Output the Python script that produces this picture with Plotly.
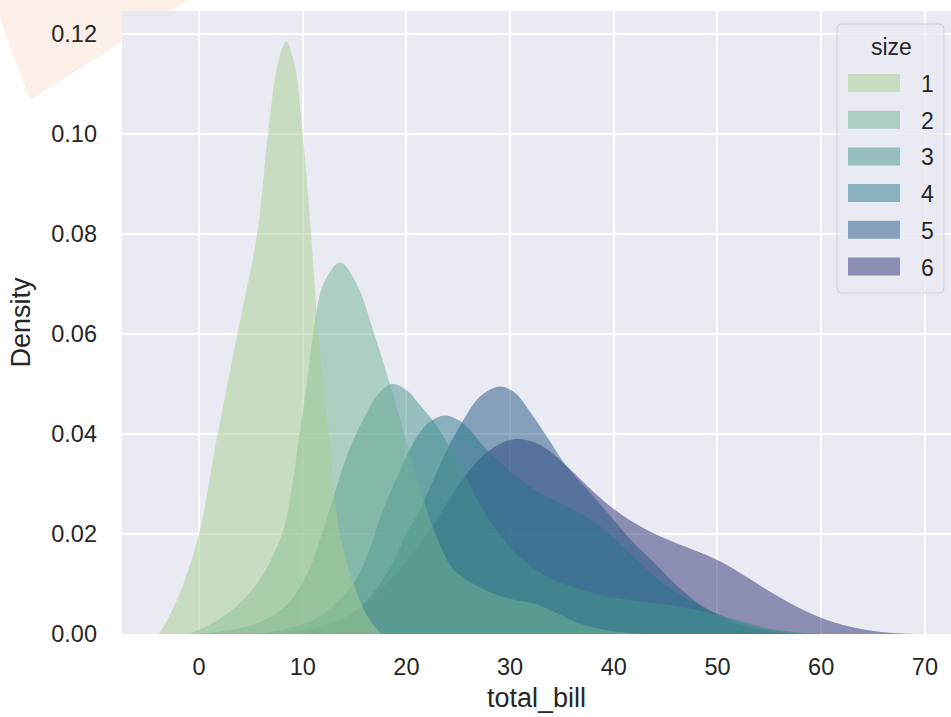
import plotly.graph_objects as go

# ---------------- data ----------------
sizes = [1, 2, 3, 4, 5, 6]

size1_x = [-3.9, -3.0, -1.6, 0.0, 1.8, 3.7, 5.6, 6.65, 7.6, 8.4, 9.2, 10.0, 10.8, 11.5, 12.5, 13.6, 15.0, 16.4, 17.6]
size1_y = [0, 0.003, 0.0095, 0.020, 0.040, 0.060, 0.080, 0.100, 0.114, 0.1185, 0.114, 0.100, 0.080, 0.060, 0.040, 0.020, 0.0095, 0.003, 0]

size2_x = [-1.0, 2.0, 5.4, 8.0, 9.0, 9.7, 10.4, 11.0, 12.0, 13.6, 15.2, 16.9, 18.4, 19.8, 21.2, 22.8, 24.5, 26.5, 28.5, 30.5, 32.5, 34.5, 36.7, 39.5, 43.0]
size2_y = [0, 0.003, 0.0095, 0.020, 0.030, 0.040, 0.050, 0.060, 0.070, 0.0743, 0.070, 0.060, 0.050, 0.040, 0.030, 0.020, 0.013, 0.010, 0.008, 0.0068, 0.006, 0.0042, 0.0021, 0.0007, 0]

size3_x = [0.0, 3.0, 6.0, 8.6, 10.6, 12.0, 13.2, 14.5, 16.0, 17.3, 18.6, 20.0, 21.3, 22.8, 24.2, 25.7, 27.1, 28.7, 30.3, 32.5, 34.5, 36.7, 39.0, 42.2, 45.4, 48.6, 51.9, 55.1, 58.0, 61.0]
size3_y = [0, 0.0008, 0.0025, 0.0061, 0.0128, 0.021, 0.029, 0.037, 0.0435, 0.048, 0.050, 0.0488, 0.0458, 0.042, 0.0372, 0.0315, 0.0258, 0.0207, 0.0166, 0.0128, 0.0106, 0.009, 0.0077, 0.0066, 0.0058, 0.0045, 0.0028, 0.0011, 0.0003, 0]

size4_x = [5.0, 8.0, 11.0, 13.0, 14.9, 16.3, 17.5, 18.8, 20.0, 21.2, 22.3, 23.7, 25.0, 25.8, 28.1, 30.6, 32.9, 35.8, 38.7, 41.6, 44.5, 47.0, 49.5, 52.0, 55.0, 58.5]
size4_y = [0, 0.0008, 0.0028, 0.0058, 0.0101, 0.016, 0.0235, 0.030, 0.0355, 0.040, 0.0425, 0.0437, 0.0428, 0.0415, 0.0361, 0.0315, 0.0281, 0.0252, 0.0215, 0.016, 0.0105, 0.0072, 0.0045, 0.0025, 0.0009, 0]

size5_x = [8.0, 11.0, 14.0, 16.5, 18.5, 20.0, 21.3, 22.6, 23.9, 25.5, 27.1, 29.0, 30.5, 31.9, 33.7, 35.1, 36.5, 37.7, 40.0, 42.0, 43.8, 45.4, 47.0, 48.6, 51.9, 55.0, 58.0]
size5_y = [0, 0.0008, 0.003, 0.0075, 0.0135, 0.020, 0.0248, 0.0308, 0.0368, 0.0428, 0.0475, 0.0495, 0.0482, 0.0445, 0.039, 0.0345, 0.031, 0.0283, 0.0228, 0.018, 0.0145, 0.011, 0.008, 0.0055, 0.0021, 0.0005, 0]

size6_x = [5.5, 9.0, 12.0, 15.0, 18.0, 21.3, 22.9, 24.5, 26.1, 28.4, 30.6, 32.9, 35.5, 38.0, 40.0, 42.0, 44.5, 47.7, 50.1, 52.5, 55.7, 58.9, 62.1, 65.4, 69.0]
size6_y = [0, 0.0006, 0.0018, 0.0045, 0.0098, 0.0181, 0.0228, 0.0281, 0.0328, 0.0373, 0.039, 0.0378, 0.0335, 0.0285, 0.025, 0.0222, 0.0195, 0.0168, 0.0147, 0.0118, 0.0077, 0.0042, 0.0018, 0.0005, 0]

x_ticks = [0, 10, 20, 30, 40, 50, 60, 70]
y_ticks = [0.00, 0.02, 0.04, 0.06, 0.08, 0.10, 0.12]
y_tick_labels = ["0.00", "0.02", "0.04", "0.06", "0.08", "0.10", "0.12"]

# crest palette sampled at the hue positions
colors = [(165, 205, 144), (111, 178, 145), (69, 148, 142), (38, 118, 139), (33, 85, 131), (44, 48, 114)]

series = {1: (size1_x, size1_y), 2: (size2_x, size2_y), 3: (size3_x, size3_y),
          4: (size4_x, size4_y), 5: (size5_x, size5_y), 6: (size6_x, size6_y)}

# ---------------- figure ----------------
W, H = 951, 717
ML, MR, MT, MB = 122, 0, 11, 83
PW, PH = W - ML - MR, H - MT - MB

def px(x):
    return (x - ML) / PW

def py(y):
    return (H - MB - y) / PH

FONT = "Liberation Sans, Arial, sans-serif"
TXT = "#262626"

fig = go.Figure()

# seaborn draws the hue levels in reverse order (6 first, 1 on top)
for s, c in reversed(list(zip(sizes, colors))):
    xs, ys = series[s]
    fig.add_trace(go.Scatter(
        x=xs, y=ys, mode="lines", fill="tozeroy",
        line=dict(width=0, shape="spline", smoothing=1.0, color="rgba(%d,%d,%d,0.5)" % c),
        fillcolor="rgba(%d,%d,%d,0.5)" % c,
        name=str(s), showlegend=False, hoverinfo="skip"))

shapes = []
# decorative peach polygon in the top-left corner (kept outside the plot area)
peach_pts = [(0, 0), (0, 18), (30, 100), (122, 41.4), (122, 11), (169.7, 11), (187, 0)]
path = "M " + " L ".join("%.5f,%.5f" % (px(a), py(b)) for a, b in peach_pts) + " Z"
shapes.append(dict(type="path", xref="paper", yref="paper", path=path,
                   fillcolor="#fcefe8", line=dict(width=0), layer="below"))

# custom legend box
bx0, by0, bx1, by1, r = 837, 24, 944, 293, 5
lp = ("M {a},{b} L {c},{b} Q {x1},{b} {x1},{d} L {x1},{e} Q {x1},{y1} {c},{y1} "
      "L {a},{y1} Q {x0},{y1} {x0},{e} L {x0},{d} Q {x0},{b} {a},{b} Z").format(
    a=px(bx0 + r), b=py(by0), c=px(bx1 - r), d=py(by0 + r), e=py(by1 - r),
    x0=px(bx0), x1=px(bx1), y1=py(by1))
shapes.append(dict(type="path", xref="paper", yref="paper", path=lp,
                   fillcolor="rgba(234,234,242,0.8)", line=dict(color="#d0d0d0", width=1), layer="above"))

annotations = [dict(x=px(891.5), y=py(47), xref="paper", yref="paper", text="size", showarrow=False,
                    xanchor="center", yanchor="middle", font=dict(family=FONT, size=23, color=TXT))]
row0, step = 83, 36.7
for i, (s, c) in enumerate(zip(sizes, colors)):
    yc = row0 + i * step
    shapes.append(dict(type="rect", xref="paper", yref="paper",
                       x0=px(848), x1=px(900), y0=py(yc - 9), y1=py(yc + 9),
                       fillcolor="rgba(%d,%d,%d,0.5)" % c, line=dict(width=0), layer="above"))
    annotations.append(dict(x=px(919), y=py(yc + 1), xref="paper", yref="paper", text=str(s),
                            showarrow=False, xanchor="left", yanchor="middle",
                            font=dict(family=FONT, size=23, color=TXT)))

fig.update_layout(
    width=W, height=H,
    margin=dict(l=ML, r=MR, t=MT, b=MB, pad=0),
    paper_bgcolor="white", plot_bgcolor="#eaeaf2",
    font=dict(family=FONT, size=23, color=TXT),
    shapes=shapes, annotations=annotations,
    showlegend=False,
)
fig.update_xaxes(range=[-7.43, 72.52], tickvals=x_ticks, ticktext=[str(v) for v in x_ticks],
                 showgrid=True, gridcolor="white", gridwidth=2, zeroline=False, showline=False,
                 ticks="", ticklabelstandoff=16, tickfont=dict(size=23.5),
                 title=dict(text="total_bill", font=dict(size=27), standoff=9))
fig.update_yaxes(range=[0, 0.1246], tickvals=y_ticks, ticktext=y_tick_labels,
                 showgrid=True, gridcolor="white", gridwidth=2, zeroline=False, showline=False,
                 ticks="", ticklabelstandoff=24, tickfont=dict(size=23.5),
                 title=dict(text="Density", font=dict(size=27), standoff=12))

fig.write_html("out.html", config={"displayModeBar": False},
               post_script="document.body.style.margin='0';")
